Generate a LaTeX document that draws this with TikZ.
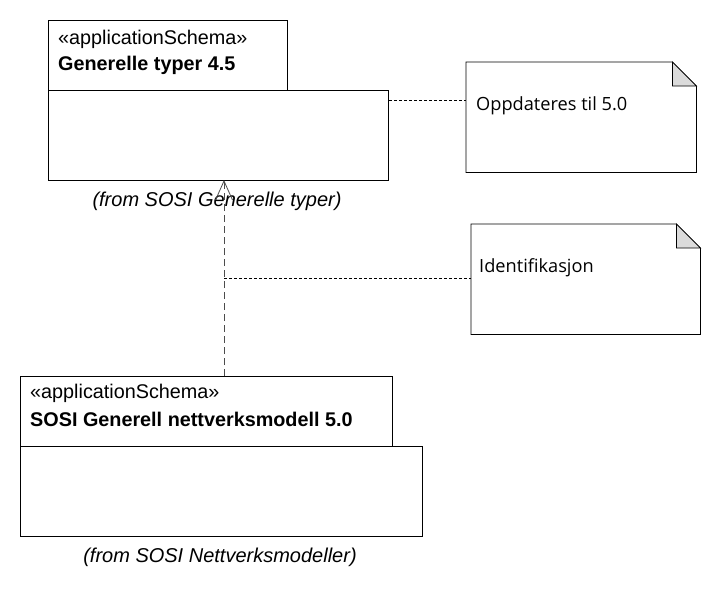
\documentclass[tikz,border=0pt]{standalone}
\usepackage{fontspec}
\setmainfont{Liberation Sans}
\newfontfamily\notefont{Open Sans}
\usetikzlibrary{arrows.meta}
\tikzset{
  pkg/.style={draw=black, line width=0.8pt, fill=white, anchor=north west, inner sep=0pt},
  pkgtxt/.style={anchor=west, inner sep=0pt, font=\fontsize{19.8}{22}\selectfont},
  fromtxt/.style={inner sep=0pt, font=\fontsize{20}{22}\selectfont\itshape},
  notebox/.style={draw=none, anchor=north west, inner sep=0pt},
  notetxt/.style={anchor=west, inner sep=0pt, font=\notefont\fontsize{18.2}{21}\selectfont},
  noteline/.style={line width=0.7pt, dash pattern=on 3pt off 2pt},
  depline/.style={draw=black!70, line width=0.8pt, dash pattern=on 7pt off 4pt,
     -{Straight Barb[length=19pt,width=17pt,line width=0.8pt]}},
}
\begin{document}
\begin{tikzpicture}[x=1pt,y=-1pt]
\useasboundingbox (0,0) rectangle (720,594);
% top package
\node[pkg, minimum width=239pt, minimum height=70pt] (ttab) at (48,20) {};
\node[pkg, minimum width=340pt, minimum height=90pt] (tbody) at (48,90) {};
\node[pkgtxt] (tst) at (58,39) {«applicationSchema»};
\node[pkgtxt] (tname) at (58,65) {\bfseries Generelle typer 4.5};
\node[fromtxt] (tfrom) at (217,201) {(from SOSI Generelle typer)};
% bottom package
\node[pkg, minimum width=372pt, minimum height=70pt] (btab) at (20,376) {};
\node[pkg, minimum width=402pt, minimum height=90pt] (bbody) at (20,446) {};
\node[pkgtxt] (bst) at (30,393) {«applicationSchema»};
\node[pkgtxt] (bname) at (30,419) {\bfseries SOSI Generell nettverksmodell 5.0};
\node[fromtxt] (bfrom) at (220,557) {(from SOSI Nettverksmodeller)};
% notes
\node[notebox, minimum width=230pt, minimum height=110pt] (n1) at (466,62) {};
\draw[line width=0.8pt, fill=white] (n1.north west) -- ([xshift=-24pt]n1.north east) -- ([yshift=-24pt]n1.north east) -- (n1.south east) -- (n1.south west) -- cycle;
\draw[line width=0.8pt, fill=black!14] ([xshift=-24pt]n1.north east) -- ([xshift=-24pt,yshift=-24pt]n1.north east) -- ([yshift=-24pt]n1.north east) -- cycle;
\node[notetxt] (n1t) at (476,106) {Oppdateres til 5.0};
\node[notebox, minimum width=229pt, minimum height=110pt] (n2) at (471,224) {};
\draw[line width=0.8pt, fill=white] (n2.north west) -- ([xshift=-24pt]n2.north east) -- ([yshift=-24pt]n2.north east) -- (n2.south east) -- (n2.south west) -- cycle;
\draw[line width=0.8pt, fill=black!14] ([xshift=-24pt]n2.north east) -- ([xshift=-24pt,yshift=-24pt]n2.north east) -- ([yshift=-24pt]n2.north east) -- cycle;
\node[notetxt] (n2t) at (479,268) {Identifikasjon};
% connectors
\coordinate (abot) at (224,376);
\coordinate (atop) at (224,180);
\coordinate (amid) at (224,278);
\draw[depline] (abot) -- (atop);
\draw[noteline] (tbody.east |- 0,100) -- (n1.west |- 0,100);
\draw[noteline] (amid) -- (n2.west |- amid);
\end{tikzpicture}
\end{document}
